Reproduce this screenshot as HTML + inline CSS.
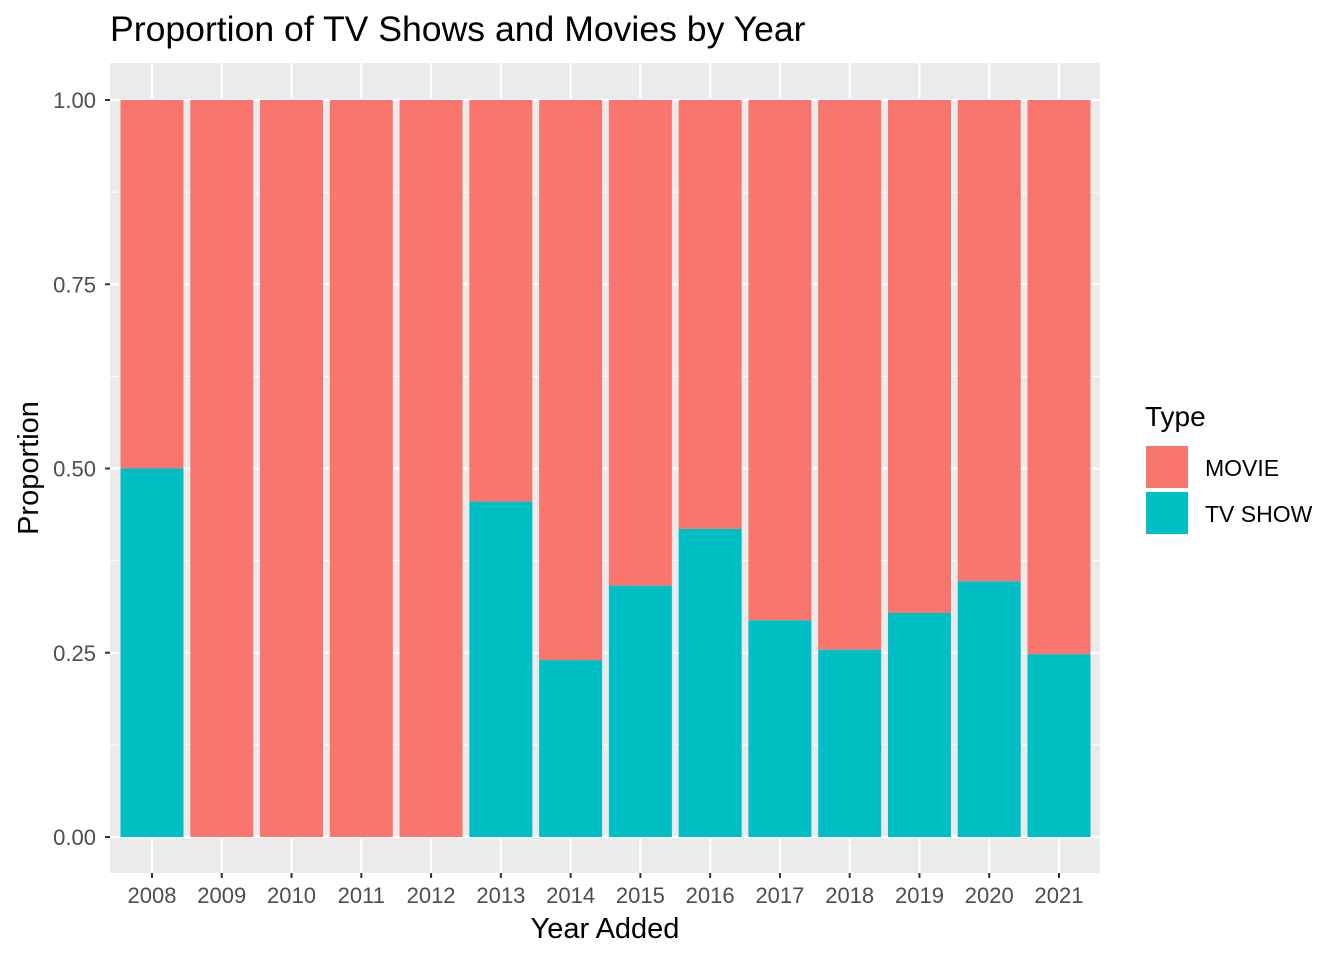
<!DOCTYPE html>
<html><head><meta charset="utf-8"><style>
body{margin:0;background:#fff;font-family:"Liberation Sans",Arial,sans-serif}
</style></head><body>
<svg id="chart" width="1344" height="960" xmlns="http://www.w3.org/2000/svg" font-family="Liberation Sans, Arial, sans-serif"></svg>
<script>
const years=["2008","2009","2010","2011","2012","2013","2014","2015","2016","2017","2018","2019","2020","2021"];
const tvShow=[0.5,0,0,0,0,0.455,0.240,0.341,0.418,0.294,0.254,0.304,0.347,0.248];
const yTicks=[0,0.25,0.5,0.75,1.0];
const yTickLabels=["0.00","0.25","0.50","0.75","1.00"];
const svg=document.getElementById('chart');
const NS="http://www.w3.org/2000/svg";
function mk(t,a,p){const e=document.createElementNS(NS,t);for(const k in a)e.setAttribute(k,a[k]);(p||svg).appendChild(e);return e;}
const L=110,R=1100,T=63,B=873;
const y0=837,y1=100;
const y=v=>y0-(y0-y1)*v;
const step=(1059-152)/13;
const x=i=>152+i*step;
const bw=63;
const panel=mk('rect',{x:L,y:T,width:R-L,height:B-T,fill:'#EBEBEB'});


for(let i=0;i<yTicks.length-1;i++){const v=(yTicks[i]+yTicks[i+1])/2;
 const g=mk('line',{x1:L,x2:R,y1:y(v),y2:y(v),stroke:'#fff','stroke-width':1});
 
 }
yTicks.forEach((v,i)=>{
 const g=mk('line',{x1:L,x2:R,y1:y(v),y2:y(v),stroke:'#fff','stroke-width':2.2});
 
 
 const tk=mk('line',{x1:L-5,x2:L,y1:y(v),y2:y(v),stroke:'#333','stroke-width':2});
 
 
 const t=mk('text',{x:L-14,y:y(v)+8,'text-anchor':'end','font-size':22,fill:'#4D4D4D'});
 t.textContent=yTickLabels[i];
 
 
});
years.forEach((yr,i)=>{
 const g=mk('line',{x1:x(i),x2:x(i),y1:T,y2:B,stroke:'#fff','stroke-width':2.2});
 
 
 const m=mk('rect',{x:x(i)-bw/2,y:y(1),width:bw,height:y(tvShow[i])-y(1),fill:'#F8766D'});
 
 
 const s=mk('rect',{x:x(i)-bw/2,y:y(tvShow[i]),width:bw,height:y(0)-y(tvShow[i]),fill:'#00BFC4'});
 
 
 const tk=mk('line',{x1:x(i),x2:x(i),y1:B,y2:B+5,stroke:'#333','stroke-width':2});
 
 
 const t=mk('text',{x:x(i),y:B+30,'text-anchor':'middle','font-size':22,fill:'#4D4D4D'});
 t.textContent=yr;
 
 
});
</script>
<svg style="position:absolute;left:0;top:0" width="1344" height="960" xmlns="http://www.w3.org/2000/svg" font-family="Liberation Sans, Arial, sans-serif">
<text x="110" y="41" font-size="35.6" fill="#000">Proportion of TV Shows and Movies by Year</text>
<text x="605" y="938" font-size="29" text-anchor="middle">Year Added</text>
<text transform="translate(38,468) rotate(-90)" font-size="29" text-anchor="middle">Proportion</text>
<g>
<text x="1145" y="426" font-size="28">Type</text>
<rect x="1146" y="446" width="42" height="42" fill="#F8766D"/>
<rect x="1146" y="492" width="42" height="42" fill="#00BFC4"/>
<text x="1205" y="476" font-size="23">MOVIE</text>
<text x="1205" y="522" font-size="23">TV SHOW</text>
</g>
</svg>
</body></html>
